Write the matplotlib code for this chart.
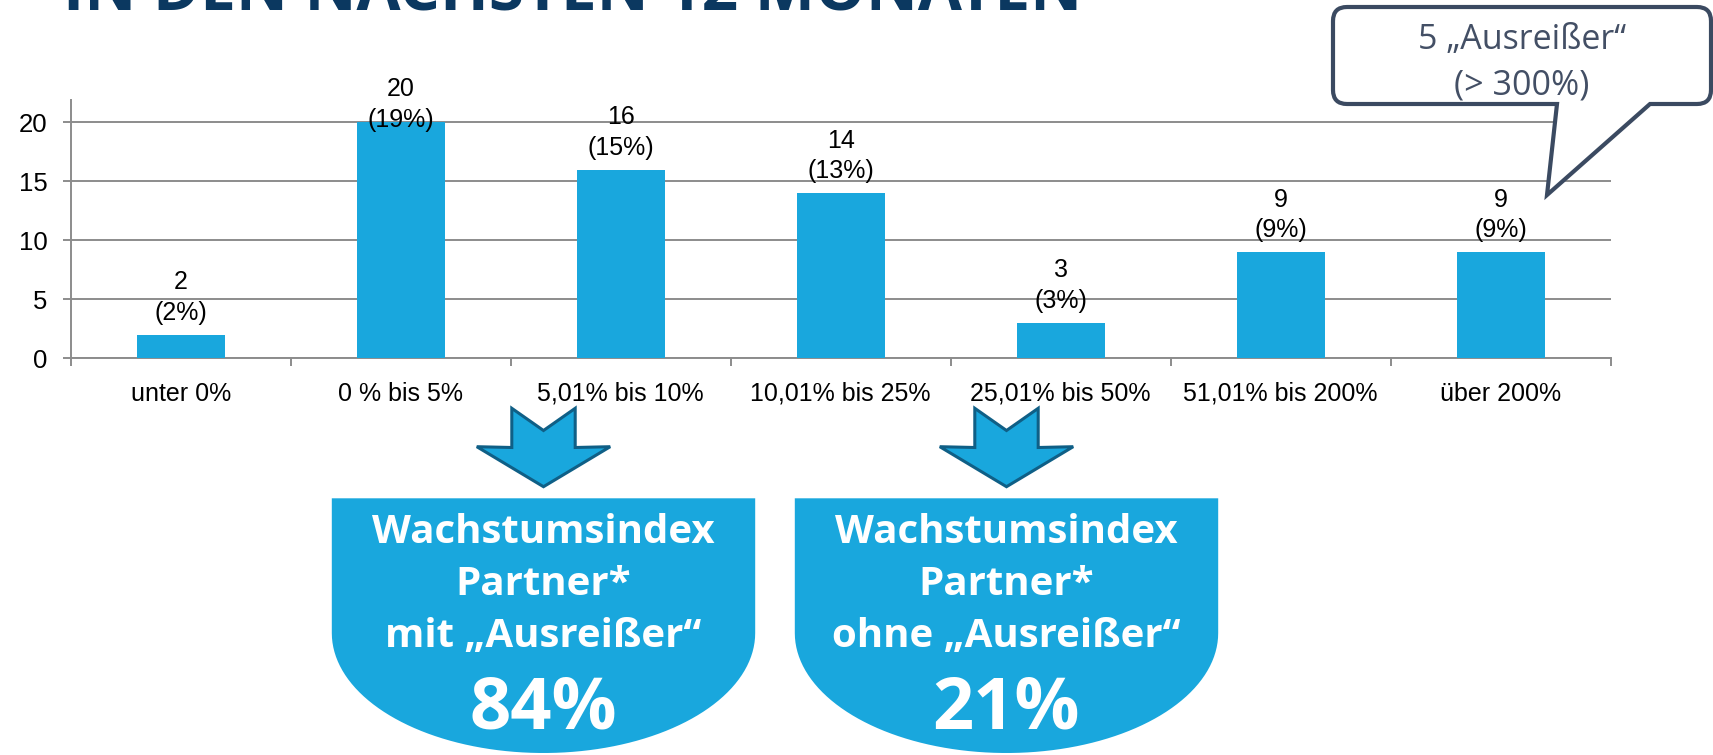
import numpy as np
import matplotlib
matplotlib.use("Agg")
import matplotlib.pyplot as plt
from matplotlib.path import Path
from matplotlib.patches import PathPatch, Polygon
from matplotlib.transforms import Affine2D

# ---------------- data ----------------
categories = ["unter 0%", "0 % bis 5%", "5,01% bis 10%", "10,01% bis 25%",
              "25,01% bis 50%", "51,01% bis 200%", "über 200%"]
counts = [2, 20, 16, 14, 3, 9, 9]
shares = [2, 19, 15, 13, 3, 9, 9]
yticks = [0, 5, 10, 15, 20]
title_text = "IN DEN NÄCHSTEN 12 MONATEN"
callout_text = "5 \u201eAusreißer\u201c\n(> 300%)"
box_lines = [["Wachstumsindex", "Partner*", "mit \u201eAusreißer\u201c"],
             ["Wachstumsindex", "Partner*", "ohne \u201eAusreißer\u201c"]]
box_values = ["84%", "21%"]

# ---------------- styles ----------------
W, H, DPI = 1713, 755, 100
BLUE = "#19a7dd"
GRID = "#8c8c8c"
NAVY = "#0b3860"
ARROW_EDGE = "#0f5f86"
CALLOUT = "#3b4a61"
CALLOUT_TXT = "#434f65"
chart_font = "Liberation Sans"
deco_font = "Open Sans"

fig = plt.figure(figsize=(W / DPI, H / DPI), dpi=DPI)
px = Affine2D().scale(1.0 / W, -1.0 / H).translate(0, 1) + fig.transFigure  # pixel coords, y down

# ---------------- chart ----------------
ax_l, ax_r, ax_b, ax_t = 70.7, 1610.7, 358.3, 99.9
ax = fig.add_axes([ax_l / W, 1 - ax_b / H, (ax_r - ax_l) / W, (ax_b - ax_t) / H])
x = np.arange(len(categories))
ax.bar(x, counts, width=0.4, color=BLUE, zorder=3)
ax.set_xlim(-0.5, len(categories) - 0.5)
ax.set_ylim(0, 21.9)
ax.set_yticks(yticks)
ax.yaxis.grid(True, color=GRID, lw=1.4, zorder=0)
ax.set_axisbelow(True)
for s in ["top", "right"]:
    ax.spines[s].set_visible(False)
for s in ["left", "bottom"]:
    ax.spines[s].set_color(GRID)
    ax.spines[s].set_linewidth(1.4)
ax.set_xticks(x)
ax.set_xticklabels(categories, fontsize=18, family=chart_font)
ax.set_xticks(np.arange(-0.5, len(categories), 1.0), minor=True)
ax.tick_params(axis="x", which="major", length=0, pad=17)
ax.tick_params(axis="x", which="minor", length=5.8, width=1.4, color=GRID)
ax.tick_params(axis="y", length=5.8, width=1.4, color=GRID, pad=11, labelsize=18.5)
for lab in ax.get_yticklabels():
    lab.set_family(chart_font)

# bar labels
labels = []
for xi, c, sh in zip(x, counts, shares):
    t = ax.annotate(f"{c}\n({sh}%)", (xi, c), xytext=(0, 7), textcoords="offset points",
                    ha="center", va="bottom", fontsize=18, family=chart_font,
                    linespacing=1.36, zorder=4)
    labels.append(t)
fig.canvas.draw()
r = fig.canvas.get_renderer()
top_limit_px = 77  # labels may not rise above this (pixels from figure top)
for t in labels:
    bb = t.get_window_extent(r)
    over = bb.y1 - (H - top_limit_px)
    if over > 0:
        t.set_position((0, 7 - over * 72 / DPI))

# ---------------- title (clipped at top) ----------------
fig.text(62.7 / W, 1 - 9.3 / H, title_text, ha="left", va="baseline", fontsize=46,
         fontweight="bold", family=deco_font, color=NAVY)

# ---------------- callout ----------------
x0, x1, y0, y1, rr = 1333, 1711, 7, 104, 14
verts = [(x0 + rr, y0), (x1 - rr, y0), (x1, y0), (x1, y0 + rr), (x1, y1 - rr), (x1, y1), (x1 - rr, y1),
         (1650, y1), (1547, 195), (1557, y1), (x0 + rr, y1), (x0, y1), (x0, y1 - rr),
         (x0, y0 + rr), (x0, y0), (x0 + rr, y0), (x0 + rr, y0)]
codes = [Path.MOVETO, Path.LINETO, Path.CURVE3, Path.CURVE3, Path.LINETO, Path.CURVE3, Path.CURVE3,
         Path.LINETO, Path.LINETO, Path.LINETO, Path.LINETO, Path.CURVE3, Path.CURVE3,
         Path.LINETO, Path.CURVE3, Path.CURVE3, Path.CLOSEPOLY]
fig.patches.append(PathPatch(Path(verts, codes), transform=px, facecolor="white",
                             edgecolor=CALLOUT, lw=3.0, joinstyle="miter", zorder=5))
fig.text(1522 / W, 1 - 63 / H, callout_text, ha="center", va="center", fontsize=24.5,
         family=deco_font, color=CALLOUT_TXT, linespacing=1.45, zorder=6)

# ---------------- arrows + blue shapes ----------------
def arrow(cx):
    pts = [(cx - 31.7, 408.3), (cx, 430.5), (cx + 31.7, 408.3), (cx + 31.7, 447.5),
           (cx + 66.7, 446.7), (cx, 486.7), (cx - 66.7, 446.7), (cx - 31.7, 447.5)]
    fig.patches.append(Polygon(pts, closed=True, transform=px, facecolor=BLUE,
                               edgecolor=ARROW_EDGE, lw=2.2, joinstyle="miter", zorder=5))

def shape(cx, a=211.7, top=498.3, ys=633.0, b=120.0):
    th = np.linspace(0, np.pi, 80)
    arc = np.column_stack([cx + a * np.cos(th), ys + b * np.sin(th)])
    pts = np.vstack([[cx - a, top], [cx + a, top], arc])
    fig.patches.append(Polygon(pts, closed=True, transform=px, facecolor=BLUE,
                               edgecolor="none", zorder=5))

for cx, lines, val in zip([543.5, 1006.5], box_lines, box_values):
    arrow(cx)
    shape(cx)
    for i, ln in enumerate(lines):
        fig.text(cx / W, 1 - (543.3 + 51.7 * i) / H, ln, ha="center", va="baseline",
                 fontsize=29, fontweight="bold", family=deco_font, color="white", zorder=6)
    fig.text(cx / W, 1 - 728.3 / H, val, ha="center", va="baseline", fontsize=52,
             fontweight="bold", family=deco_font, color="white", zorder=6)

fig.savefig("out.png", dpi=DPI)
